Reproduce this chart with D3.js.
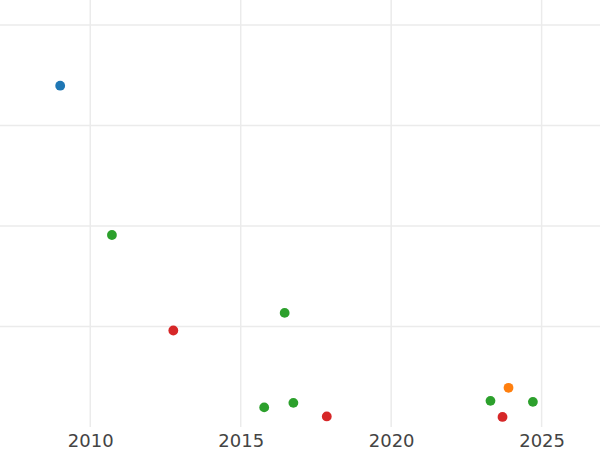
<!DOCTYPE html>
<html>
<head>
<meta charset="utf-8">
<script src="https://cdn.jsdelivr.net/npm/d3@7"></script>
<style>
  html, body { margin: 0; padding: 0; background: #fff; }
  svg { display: block; }
</style>
</head>
<body>
<div id="chart"></div>
<script>
// Data
const years  = [2009.0, 2010.72, 2012.76, 2016.46, 2015.78, 2016.75, 2017.86, 2023.90, 2023.30, 2024.71, 2023.70];
const values = [67.9, 38.2, 19.2, 22.7, 3.9, 4.8, 2.1, 7.8, 5.2, 5.0, 2.0];
const groups = ["A", "C", "D", "C", "C", "C", "D", "B", "C", "C", "D"];
const groupNames = ["A", "B", "C", "D"];
const groupColors = ["#1f77b4", "#ff7f0e", "#2ca02c", "#d62728"];
const xTicks = [2010, 2015, 2020, 2025];
const yTicks = [20, 40, 60, 80];

const W = 600, H = 450;
const plotTop = 0, plotBottom = 427;

const svg = d3.select("#chart").append("svg")
  .attr("width", W).attr("height", H);

const x = d3.scaleLinear().domain([2007.0, 2026.94]).range([0, W]);
const y = d3.scaleLinear().domain([0, 84.95]).range([plotBottom, plotTop]);
const color = d3.scaleOrdinal().domain(groupNames).range(groupColors);

// grid
svg.append("g").selectAll("line.h").data(yTicks).join("line")
  .attr("x1", 0).attr("x2", W)
  .attr("y1", d => y(d)).attr("y2", d => y(d))
  .attr("stroke", "#ebebeb").attr("stroke-width", 1.5);

svg.append("g").selectAll("line.v").data(xTicks).join("line")
  .attr("x1", d => x(d)).attr("x2", d => x(d))
  .attr("y1", plotTop).attr("y2", plotBottom)
  .attr("stroke", "#ebebeb").attr("stroke-width", 1.5);

// x axis labels
const xAxis = d3.axisBottom(x).tickValues(xTicks).tickFormat(d3.format("d")).tickSize(0).tickPadding(0);
const gx = svg.append("g").attr("transform", `translate(0,${plotBottom})`).call(xAxis);
gx.select(".domain").remove();
gx.selectAll("text")
  .attr("dy", null).attr("y", 20)
  .attr("fill", "#444")
  .style("font-family", "'DejaVu Sans', sans-serif")
  .style("font-size", "18px");

// points
const pts = years.map((yr, i) => ({ x: yr, y: values[i], g: groups[i] }));
svg.append("g").selectAll("circle").data(pts).join("circle")
  .attr("cx", d => x(d.x)).attr("cy", d => y(d.y))
  .attr("r", 4.9)
  .attr("fill", d => color(d.g));
</script>
</body>
</html>
